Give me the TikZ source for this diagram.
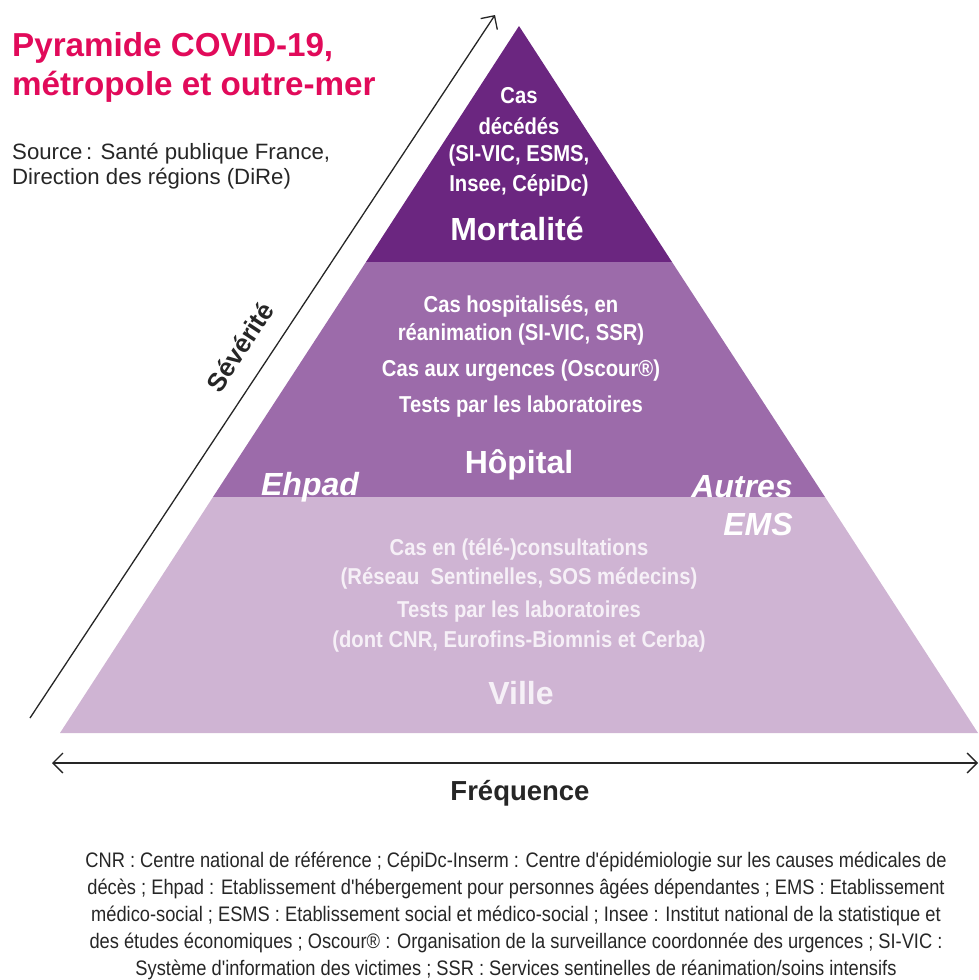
\documentclass[tikz,border=0pt]{standalone}
\usepackage{fontspec}
\setmainfont{Liberation Sans}
\newfontfamily\narrowfont[FakeStretch=0.88]{Liberation Sans}
\newfontfamily\footfont[FakeStretch=0.87]{Liberation Sans}
\usetikzlibrary{arrows.meta}
\definecolor{topc}{RGB}{107,38,128}
\definecolor{midc}{RGB}{156,107,170}
\definecolor{lowc}{RGB}{207,180,211}
\definecolor{titlec}{RGB}{225,10,90}
\definecolor{lowtext}{RGB}{246,240,247}
\tikzset{
  mybarb/.tip={Straight Barb[length=10pt,width=20pt,line width=1.3pt]},
  smalltxt/.style={font=\narrowfont\bfseries\fontsize{23}{27}\selectfont, text=white, align=center, inner sep=0pt},
  lowtxt/.style={font=\narrowfont\bfseries\fontsize{23}{27}\selectfont, text=lowtext, align=center, inner sep=0pt},
  bigtxt/.style={font=\bfseries\fontsize{32}{36}\selectfont, text=white, inner sep=0pt},
  itxt/.style={font=\bfseries\itshape\fontsize{32}{36}\selectfont, text=white, inner sep=0pt},
  axis/.style={line width=1.3pt, black!85, {mybarb}-{mybarb}},
  axisone/.style={line width=1.3pt, black!85, -{mybarb}},
  axlabel/.style={font=\bfseries\fontsize{26}{30}\selectfont, text=black!85, inner sep=0pt},
  foot/.style={font=\footfont\fontsize{21}{27}\selectfont, text=black!85, align=center, inner sep=0pt},
}
\begin{document}
\begin{tikzpicture}[x=1pt,y=-1pt]
\useasboundingbox (0,0) rectangle (978,980);
% pyramid bands
\fill[topc] (519,26) -- (672,262) -- (366,262) -- cycle;
\fill[midc] (366,262) -- (672,262) -- (825,497) -- (213,497) -- cycle;
\fill[lowc] (213,497) -- (825,497) -- (978,733) -- (60,733) -- cycle;
% axes
\coordinate (sevA) at (30,718);
\coordinate (sevB) at (495,15);
\draw[axisone] (sevA) -- (sevB);
\coordinate (frqA) at (52,763);
\coordinate (frqB) at (978,763);
\draw[axis] (frqA) -- (frqB);
\node[axlabel, rotate=56.6] (sev) at (240,347) {Sévérité};
\node[axlabel, font=\bfseries\fontsize{27.5}{30}\selectfont] (frq) at (520,793) {Fréquence};
% title
\node[anchor=west, font=\bfseries\fontsize{33.2}{39}\selectfont, text=titlec, align=left, inner sep=0pt] (title) at (12,67) {Pyramide COVID-19,\\métropole et outre-mer};
\node[anchor=west, font=\fontsize{22.2}{24.5}\selectfont, text=black!85, align=left, inner sep=0pt] (src) at (12,166) {Source\,: Santé publique France,\\Direction des régions (DiRe)};
% top band
\node[smalltxt] (top1) at (519,96) {Cas};
\node[smalltxt] (top2) at (519,126) {décédés};
\node[smalltxt] (top3) at (519,156) {(SI-VIC, ESMS,};
\node[smalltxt] (top4) at (519,185) {Insee, CépiDc)};
\node[bigtxt] (mort) at (517,229) {Mortalité};
% middle band
\node[smalltxt] (mid1) at (521,306) {Cas hospitalisés, en};
\node[smalltxt] (mid2) at (521,334) {réanimation (SI-VIC, SSR)};
\node[smalltxt] (mid3) at (521,371) {Cas aux urgences (Oscour®)};
\node[smalltxt] (mid4) at (521,407) {Tests par les laboratoires};
\node[bigtxt] (hop) at (519,465) {Hôpital};
\node[itxt] (ehpad) at (310,487) {Ehpad};
\node[itxt] (autres) at (742,487) {Autres};
\node[itxt] (ems) at (758,524) {EMS};
% lower band
\node[lowtxt] (low1) at (519,549) {Cas en (télé-)consultations};
\node[lowtxt] (low2) at (519,578) {(Réseau\ \ Sentinelles, SOS médecins)};
\node[lowtxt] (low3) at (519,612) {Tests par les laboratoires};
\node[lowtxt] (low4) at (519,642) {(dont CNR, Eurofins-Biomnis et Cerba)};
\node[bigtxt, text=lowtext] (ville) at (521,693) {Ville};
% footnote
\node[foot] (note) at (516,915.5) {CNR : Centre national de référence ; CépiDc-Inserm : Centre d'épidémiologie sur les causes médicales de\\décès ; Ehpad : Etablissement d'hébergement pour personnes âgées dépendantes ; EMS : Etablissement\\médico-social ; ESMS : Etablissement social et médico-social ; Insee : Institut national de la statistique et\\des études économiques ; Oscour® : Organisation de la surveillance coordonnée des urgences ; SI-VIC :\\Système d'information des victimes ; SSR : Services sentinelles de réanimation/soins intensifs};
\end{tikzpicture}
\end{document}
